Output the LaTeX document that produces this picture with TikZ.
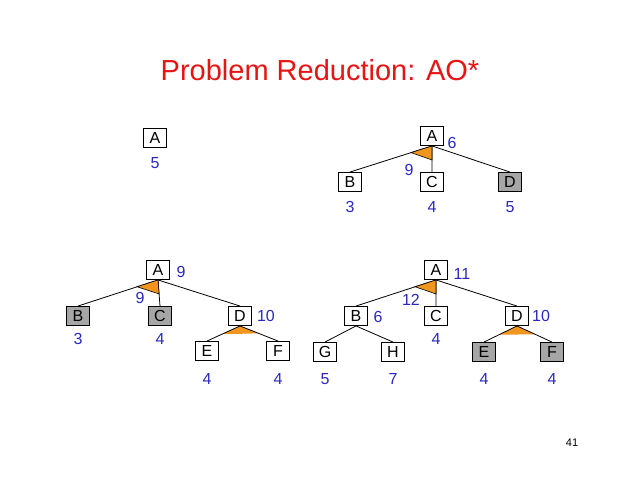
\documentclass[tikz,border=0pt]{standalone}
\usepackage{fontspec}
\setmainfont{Liberation Sans}
\usetikzlibrary{calc}
\definecolor{lblue}{RGB}{40,40,190}
\definecolor{arcor}{RGB}{240,150,30}
\definecolor{titred}{RGB}{230,20,20}
\tikzset{
 bx/.style={draw,line width=0.9pt,fill=white,minimum width=23pt,minimum height=19pt,inner sep=0pt,font=\fontsize{16}{18}\selectfont},
 gbx/.style={bx,fill=gray!70},
 lb/.style={text=lblue,font=\fontsize{16}{18}\selectfont,inner sep=0pt},
 ed/.style={draw,line width=0.8pt},
}
\newcommand{\andarc}[3]{\fill[arcor,draw=black,line width=0.6pt] (#1.south) -- ($(#1.south)!22pt!(#2.north)$) -- ($(#1.south)!14pt!(#3.north)$) -- cycle;}
\begin{document}
\begin{tikzpicture}[x=1pt,y=-1pt]
\path[use as bounding box] (0,0) rectangle (638,479);
\node[text=titred,font=\fontsize{29}{32}\selectfont] (title) at (320,70) {Problem Reduction: AO*};
\node[font=\rmfamily\fontsize{11}{13}\selectfont] (pg) at (572,443) {41};
% tree 1
\node[bx] (a1) at (155,138) {A};
\node[lb] (l1) at (155,163) {5};
% tree 2
\node[bx] (a2) at (432,136) {A};
\node[bx] (b2) at (350,182) {B};
\node[bx] (c2) at (432,182) {C};
\node[gbx] (d2) at (510,182) {D};
\draw[ed] (a2.south)--(b2.north) (a2.south)--(c2.north) (a2.south)--(d2.north);
\andarc{a2}{b2}{c2}
\node[lb] at (452,143) {6};
\node[lb] at (409,170) {9};
\node[lb] at (350,207) {3};
\node[lb] at (432,207) {4};
\node[lb] at (510,207) {5};
% tree 3
\node[bx] (a3) at (158,270) {A};
\node[gbx] (b3) at (78,316) {B};
\node[gbx] (c3) at (160,316) {C};
\node[bx] (d3) at (240,316) {D};
\node[bx] (e3) at (207,351) {E};
\node[bx] (f3) at (278,351) {F};
\draw[ed] (a3.south)--(b3.north) (a3.south)--(c3.north) (a3.south)--(d3.north);
\andarc{a3}{b3}{c3}
\fill[arcor] (d3.south) -- ($(d3.south)!20pt!(e3.north)$) -- ($(d3.south)!20pt!(f3.north)$) -- cycle;
\draw[ed] (d3.south)--(e3.north) (d3.south)--(f3.north);
\node[lb] at (181,272) {9};
\node[lb] at (140,298) {9};
\node[lb] at (266,316) {10};
\node[lb] at (78,339) {3};
\node[lb] at (160,339) {4};
\node[lb] at (207,379) {4};
\node[lb] at (278,379) {4};
% tree 4
\node[bx] (a4) at (436,270) {A};
\node[bx] (b4) at (356,316) {B};
\node[bx] (c4) at (436,316) {C};
\node[bx] (d4) at (517,316) {D};
\node[bx] (g4) at (325,352) {G};
\node[bx] (h4) at (393,352) {H};
\node[gbx] (e4) at (484,352) {E};
\node[gbx] (f4) at (552,352) {F};
\draw[ed] (a4.south)--(b4.north) (a4.south)--(c4.north) (a4.south)--(d4.north)
 (b4.south)--(g4.north) (b4.south)--(h4.north);
\andarc{a4}{b4}{c4}
\fill[arcor] (d4.south) -- ($(d4.south)!20pt!(e4.north)$) -- ($(d4.south)!20pt!(f4.north)$) -- cycle;
\draw[ed] (d4.south)--(e4.north) (d4.south)--(f4.north);
\node[lb] at (462,274) {11};
\node[lb] at (411,300) {12};
\node[lb] at (378,317) {6};
\node[lb] at (541,316) {10};
\node[lb] at (436,339) {4};
\node[lb] at (325,379) {5};
\node[lb] at (393,379) {7};
\node[lb] at (484,379) {4};
\node[lb] at (552,379) {4};
\end{tikzpicture}
\end{document}
